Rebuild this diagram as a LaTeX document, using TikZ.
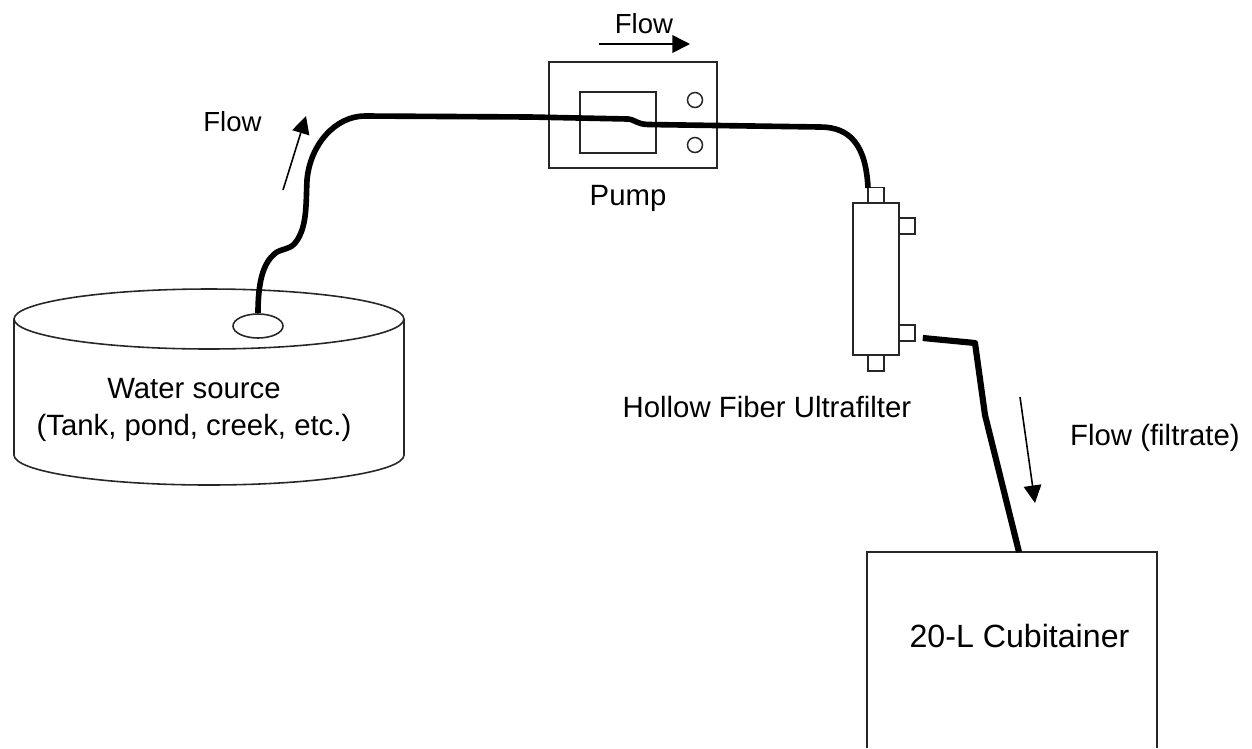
\documentclass[tikz,border=0pt]{standalone}
\usepackage{fontspec}
\setmainfont{Liberation Sans}
\usetikzlibrary{arrows.meta,shapes.geometric}

\tikzset{
	part/.style={draw=black!85,line width=0.9pt,rectangle,inner sep=0pt},
	disc/.style={draw=black!85,line width=0.9pt,ellipse,inner sep=0pt},
	hole/.style={draw=black!85,line width=0.85pt,circle,inner sep=0pt,minimum size=0.3cm},
	port/.style={part,minimum size=0.32cm},
	tube/.style={line width=3.2pt,line cap=butt,line join=round},
	flow/.style={line width=0.9pt,-{Triangle[length=10pt,width=10pt]}},
	label/.style={align=center,inner sep=0pt,font=\fontsize{16.7}{21}\selectfont},
	flowlabel/.style={label,font=\fontsize{15.7}{21}\selectfont},
	cubilabelstyle/.style={label,font=\fontsize{18.3}{21}\selectfont}
}

\begin{document}
\begin{tikzpicture}[x=0.02cm,y=-0.02cm]
	\useasboundingbox (0,0) rectangle (1252,748);
	% water source
	\draw[part] (14,319) -- (14,455) arc[start angle=180,end angle=360,x radius=195,y radius=-30] -- (404,319);
	\node[disc,minimum width=7.8cm,minimum height=1.2cm] (tank) at (209,319) {};
	\node[disc,minimum width=1cm,minimum height=0.48cm] (intake) at (258,326) {};
	\node[label] (tanklabel) at (194,409.5) {Water source\\(Tank, pond, creek, etc.)};
	% pump
	\node[part,minimum width=3.36cm,minimum height=2.12cm] (pump) at (633,115) {};
	\node[part,minimum width=1.52cm,minimum height=1.22cm] (rotor) at (618,122.5) {};
	\node[hole] (knoba) at (695,100) {};
	\node[hole] (knobb) at (695,145) {};
	\node[label] (pumplabel) at (628,198) {Pump};
	% filter
	\node[part,minimum width=0.92cm,minimum height=3.04cm] (filter) at (876,279) {};
	\node[port] (portin) at (876,195.5) {};
	\node[port] (portend) at (876,363) {};
	\node[port] (portside) at (907,226) {};
	\node[port] (portout) at (907,333) {};
	\node[label] (filterlabel) at (767,407) {Hollow Fiber Ultrafilter};
	% cubitainer
	\coordinate (cubileft) at (867,748);
	\coordinate (cubitop) at (1019,552);
	\draw[part] (cubileft) -- (867,552) -- (1157,552) -- (1157,748);
	\node[cubilabelstyle] (cubilabel) at (1019.5,636) {20-L Cubitainer};
	% tubing
	\draw[tube] (intake.north) .. controls (258,285) and (262,262) .. (277,252)
		.. controls (287,247) and (293,250) .. (300,235)
		.. controls (307,220) and (306,200) .. (307,180)
		.. controls (310,145) and (335,116) .. (365,116)
		-- (530,117) -- (628,119) .. controls (636,120) and (636,124) .. (648,124.5)
		-- (820,127) .. controls (850,127) and (866,145) .. (868,188);
	\draw[tube,line width=3.5pt] ([xshift=0.14cm,yshift=-0.1cm]portout.east) -- (975,343) -- (985,415) -- (cubitop);
	% flow arrows
	\coordinate (flowa) at (283,190);
	\coordinate (flowb) at (306,116);
	\coordinate (flowc) at (599,44);
	\coordinate (flowd) at (690,44);
	\coordinate (flowe) at (1020,397);
	\coordinate (flowf) at (1035,503);
	\draw[flow] (flowa) -- (flowb);
	\draw[flow] (flowc) -- (flowd);
	\draw[flow] (flowe) -- (flowf);
	\node[flowlabel] (flowlabela) at (232.5,122) {Flow};
	\node[flowlabel] (flowlabelb) at (644,24) {Flow};
	\node[label] (flowlabelc) at (1155,438) {Flow (filtrate)};
\end{tikzpicture}
\end{document}
